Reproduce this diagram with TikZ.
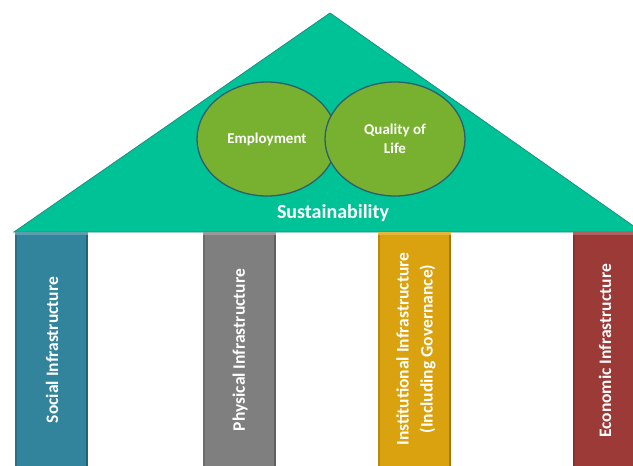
\documentclass[tikz,border=0pt]{standalone}
\usepackage{fontspec}
\setmainfont{Carlito}
\usetikzlibrary{shapes.geometric}
\begin{document}
\begin{tikzpicture}[x=1pt,y=-1pt,
  roof/.style={fill=roofc,draw=roofd,line width=0.8pt},
  ring/.style={ellipse,fill=ringc,draw=ringd,line width=1.3pt,minimum width=140pt,minimum height=114pt,inner sep=0pt},
  lbl/.style={text=white,font=\bfseries\fontsize{15}{19}\selectfont,align=center},
  ptext/.style={text=white,font=\bfseries\fontsize{17.5}{24}\selectfont,align=center,rotate=90}]
\definecolor{roofc}{HTML}{00C297}
\definecolor{roofd}{HTML}{1E8C84}
\definecolor{ringc}{HTML}{78B12F}
\definecolor{ringd}{HTML}{2F5E6E}
\definecolor{socc}{HTML}{31849B}
\definecolor{phyc}{HTML}{7F7F7F}
\definecolor{insc}{HTML}{D9A20E}
\definecolor{ecoc}{HTML}{9B3A37}
\useasboundingbox (0,0) rectangle (633,466);
\fill[white] (0,0) rectangle (633,466);
% roof
\coordinate (apex) at (330,13);
\coordinate (bl) at (14,232);
\coordinate (br) at (642,232);
\draw[roof] (apex) -- (br) -- (bl) -- cycle;
\node[ring] (emp) at (267,139) {};
\node[ring] (qol) at (395,139) {};
\node[lbl] at (emp.center) {Employment};
\node[lbl] at (qol.center) {Quality of\\Life};
\node[text=white,font=\bfseries\fontsize{20}{24}\selectfont] (sus) at (333,213) {Sustainability};
% pillars
\foreach \nm/\xa/\xb/\cl in {soc/15/88/socc, phy/203/276/phyc, ins/378/451/insc, eco/573/646/ecoc}{
  \fill[\cl] (\xa,232) rectangle (\xb,466);
  \fill[\cl!80!white] (\xa,232) rectangle (\xb,235);
  \fill[\cl!75!black] (\xb-2,235) rectangle (\xb,466);
  \fill[\cl!85!black] (\xa,235) rectangle (\xa+1.5,466);
}
\node[ptext] (socT) at (52,350) {Social Infrastructure};
\node[ptext] (phyT) at (240,350) {Physical Infrastructure};
\node[ptext] (insT) at (416,349) {Institutional Infrastructure\\(Including Governance)};
\node[ptext] (ecoT) at (605,351) {Economic Infrastructure};
\end{tikzpicture}
\end{document}
